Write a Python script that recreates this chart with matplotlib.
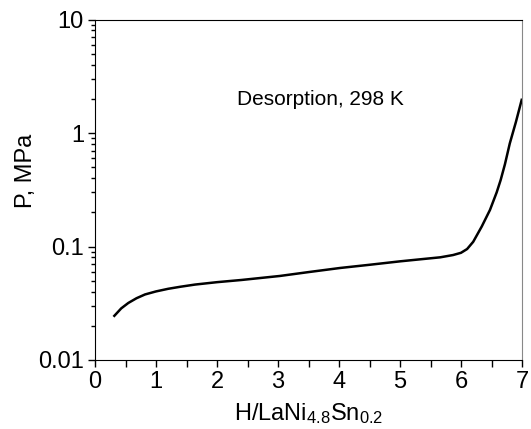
import matplotlib
matplotlib.use("Agg")
import matplotlib.pyplot as plt
from matplotlib.ticker import LogLocator, FixedLocator, NullFormatter

plt.rcParams['font.family'] = ['Liberation Sans', 'DejaVu Sans']
plt.rcParams['mathtext.fontset'] = 'custom'
plt.rcParams['mathtext.rm'] = 'Liberation Sans'
plt.rcParams['mathtext.it'] = 'Liberation Sans:italic'
plt.rcParams['mathtext.bf'] = 'Liberation Sans:bold'

h_ratio = [0.317, 0.43, 0.546, 0.68, 0.82, 1.00, 1.20, 1.40, 1.64, 2.00,
           2.40, 3.03, 3.50, 4.02, 4.50, 5.00, 5.33, 5.66, 5.87, 6.00,
           6.10, 6.20, 6.34, 6.475, 6.585, 6.65, 6.72, 6.80, 6.90, 6.995]
pressure = [0.0245, 0.0285, 0.0318, 0.0350, 0.0378, 0.0402, 0.0424, 0.0442,
            0.0462, 0.0485, 0.0507, 0.0550, 0.0595, 0.0647, 0.0690, 0.0740,
            0.0771, 0.0803, 0.0841, 0.0880, 0.0950, 0.110, 0.150, 0.210,
            0.300, 0.385, 0.53, 0.81, 1.25, 1.96]

fig = plt.figure(figsize=(5.31, 4.29), dpi=100)
ax = fig.add_axes([95/531, (429-360)/429, 427/531, 340.5/429])
ax.plot(h_ratio, pressure, color='black', lw=1.8)
ax.set_yscale('log')
ax.set_xlim(0, 7)
ax.set_ylim(0.01, 10)
ax.set_yticks([0.01, 0.1, 1, 10])
ax.set_yticklabels(['0.01', '0.1', '1', '10'])
ax.yaxis.set_minor_locator(LogLocator(base=10, subs=range(2, 10)))
ax.yaxis.set_minor_formatter(NullFormatter())
ax.set_xticks(range(8))
ax.xaxis.set_minor_locator(FixedLocator([i + 0.5 for i in range(7)]))
ax.tick_params(axis='both', which='major', labelsize=17, length=5, width=1, direction='out')
ax.tick_params(axis='both', which='minor', length=3, width=1, direction='out')
ax.tick_params(axis='x', which='minor', length=5)
ax.tick_params(axis='y', pad=3)
ax.tick_params(axis='x', pad=3)
ax.spines['right'].set_color('#888888')
for s in ['left', 'bottom', 'top']:
    ax.spines[s].set_color('black')
ax.set_xlabel(r'H/LaNi$_{\mathregular{4.8}}$Sn$_{\mathregular{0.2}}$', fontsize=17, labelpad=6)
ax.set_ylabel('P, MPa', fontsize=17, labelpad=0)
ax.yaxis.set_label_coords(-0.135, 0.555)
ax.text(0.527, 0.765, 'Desorption, 298 K', transform=ax.transAxes,
        ha='center', va='center', fontsize=15)
fig.savefig('out.png', dpi=100)
